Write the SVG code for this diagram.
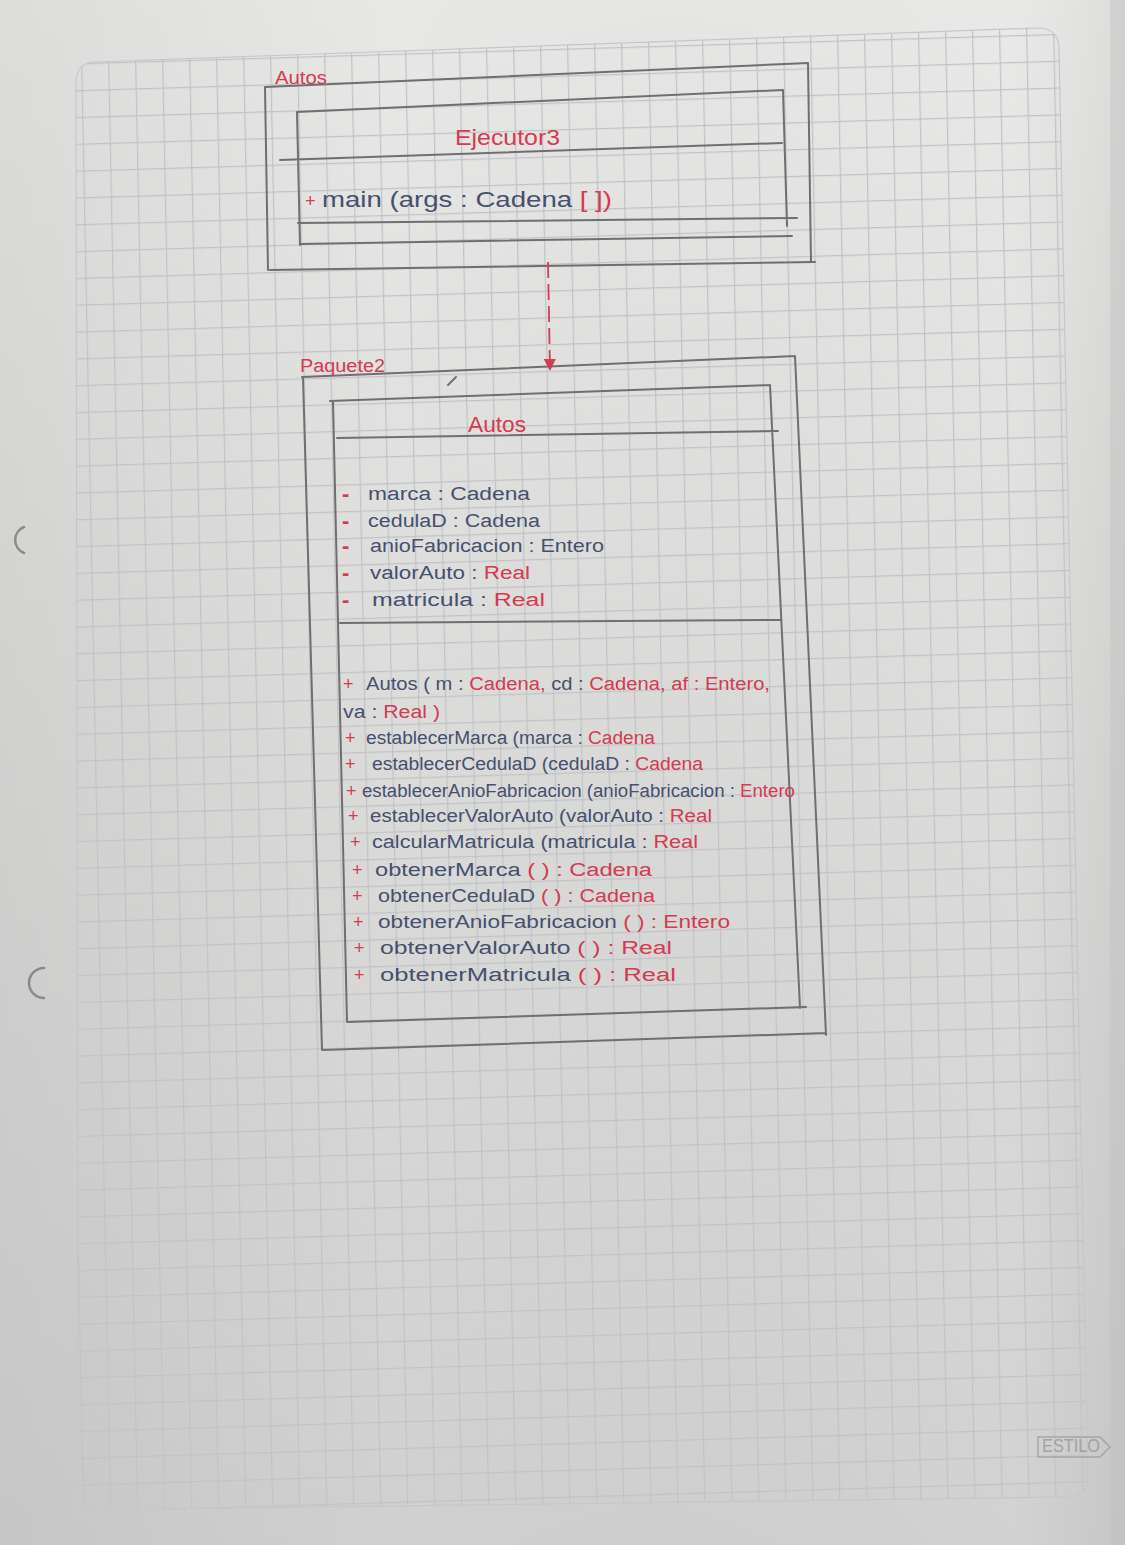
<svg xmlns="http://www.w3.org/2000/svg" width="1125" height="1545" viewBox="0 0 1125 1545">
  <defs>
    <style>
      .t { font-family: "Liberation Sans", "Open Sans", sans-serif; font-size: 18px; }
      .big { font-size: 22px; }
      .lbl { font-size: 18px; }
      .dash { font-size: 22px; font-weight: bold; }
      .r { fill: #d43a50; }
      .b { fill: #45506f; }
      .pen { fill: none; stroke: #6f6f72; stroke-width: 2; stroke-linecap: round; }
      .hole { fill: none; stroke: #8a8a8a; stroke-width: 2.5; stroke-linecap: round; }
    </style>
    <linearGradient id="paperV" x1="0" y1="0" x2="0" y2="1">
      <stop offset="0" stop-color="#e8e8e7"/>
      <stop offset="0.45" stop-color="#dcdcdb"/>
      <stop offset="1" stop-color="#d0d0d0"/>
    </linearGradient>
    <linearGradient id="paperH" x1="0" y1="0" x2="1" y2="0">
      <stop offset="0" stop-color="#000" stop-opacity="0.05"/>
      <stop offset="0.35" stop-color="#000" stop-opacity="0"/>
      <stop offset="0.9" stop-color="#fff" stop-opacity="0.04"/>
      <stop offset="1" stop-color="#000" stop-opacity="0.05"/>
    </linearGradient>
    <pattern id="grid" patternUnits="userSpaceOnUse" width="27" height="26.8"
             patternTransform="matrix(1 -0.03 0.02 1 26 11.2)">
      <path d="M0 0.6 H27 M0.6 0 V26.8" fill="none" stroke="#c2c3c7" stroke-width="1.3"/>
    </pattern>
    <marker id="arrowRed" viewBox="0 0 12 12" refX="11" refY="6" markerWidth="12" markerHeight="12" markerUnits="userSpaceOnUse" orient="auto">
      <path d="M0 0 L12 6 L0 12 Z" fill="#d43a50"/>
    </marker>
  </defs>

  <!-- sheet of squared paper -->
  <rect x="0" y="0" width="1125" height="1545" fill="url(#paperV)"/>
  <rect x="0" y="0" width="1125" height="1545" fill="url(#paperH)"/>
  <rect x="1110" y="0" width="15" height="1545" fill="#bdbdbd" opacity="0.35"/>
  <path d="M95 62 L1038 28 Q1058 28 1059 48 L1088 1478 Q1088 1496 1070 1497 L96 1510 Q78 1510 78 1492 L76 82 Q76 63 95 62 Z"
        fill="url(#grid)" stroke="#c6c7ca" stroke-width="1.2"/>

  <!-- binder holes -->
  <path class="hole" d="M24 527 A14 14 0 0 0 24 553"/>
  <path class="hole" d="M44 968 A15 15 0 0 0 44 998"/>

  <!-- printed brand mark -->
  <g id="brand">
    <path d="M1038 1437 H1100 L1110 1447 L1100 1457 H1038 Z" fill="none" stroke="#a6a6a6" stroke-width="1.5"/>
    <text x="1042" y="1452" class="t" font-size="12" fill="#a2a2a2" textLength="58" lengthAdjust="spacingAndGlyphs">ESTILO</text>
  </g>

  <!-- package "Autos" -->
  <g id="pkg-autos">
    <path class="pen" d="M265 87 L808 63 M265 87 L268 270 M808 63 L811 262 M270 270 L815 262"/>
    <text x="275" y="84" class="t lbl r" textLength="52" lengthAdjust="spacingAndGlyphs">Autos</text>
  </g>

  <!-- class Ejecutor3 -->
  <g id="class-ejecutor3">
    <path class="pen" d="M297 112 L783 90 M297 112 L300 245 M783 90 L787 226 M280 160 L782 143 M298 223 L797 218 M300 244 L792 236"/>
    <text x="455" y="145" class="t big r" textLength="105" lengthAdjust="spacingAndGlyphs">Ejecutor3</text>
    <text x="305" y="207" class="t r">+</text>
    <text x="322" y="207" class="t big" textLength="290" lengthAdjust="spacingAndGlyphs"><tspan class="b">main (args : Cadena </tspan><tspan class="r">[ ])</tspan></text>
  </g>

  <!-- package "Paquete2" -->
  <g id="pkg-paquete2">
    <path class="pen" d="M302 377 L795 356 M303 377 L322 1050 M795 356 L826 1035 M322 1050 L826 1033"/>
    <path class="pen" d="M448 385 L456 377" stroke-width="1.5"/>
    <text x="300" y="372" class="t lbl r" textLength="85" lengthAdjust="spacingAndGlyphs">Paquete2</text>
  </g>

  <!-- class Autos -->
  <g id="class-autos">
    <path class="pen" d="M330 401 L770 385 M333 401 L347 1022 M770 385 L800 1008 M337 438 L778 431 M340 623 L780 620 M347 1022 L806 1007"/>
    <text x="468" y="432" class="t big r" textLength="58" lengthAdjust="spacingAndGlyphs">Autos</text>

    <!-- attributes -->
    <text x="342" y="501" class="t dash r">-</text>
    <text x="368" y="500" class="t b" textLength="162" lengthAdjust="spacingAndGlyphs">marca : Cadena</text>
    <text x="342" y="528" class="t dash r">-</text>
    <text x="368" y="527" class="t b" textLength="172" lengthAdjust="spacingAndGlyphs">cedulaD : Cadena</text>
    <text x="342" y="553" class="t dash r">-</text>
    <text x="370" y="552" class="t b" textLength="234" lengthAdjust="spacingAndGlyphs">anioFabricacion : Entero</text>
    <text x="342" y="580" class="t dash r">-</text>
    <text x="370" y="579" class="t" textLength="160" lengthAdjust="spacingAndGlyphs"><tspan class="b">valorAuto : </tspan><tspan class="r">Real</tspan></text>
    <text x="342" y="607" class="t dash r">-</text>
    <text x="372" y="606" class="t" textLength="173" lengthAdjust="spacingAndGlyphs"><tspan class="b">matricula : </tspan><tspan class="r">Real</tspan></text>

    <!-- operations -->
    <text x="343" y="690" class="t r">+</text>
    <text x="366" y="690" class="t" textLength="404" lengthAdjust="spacingAndGlyphs"><tspan class="b">Autos ( m : </tspan><tspan class="r">Cadena, </tspan><tspan class="b">cd : </tspan><tspan class="r">Cadena, af : Entero,</tspan></text>
    <text x="343" y="718" class="t" textLength="97" lengthAdjust="spacingAndGlyphs"><tspan class="b">va : </tspan><tspan class="r">Real )</tspan></text>
    <text x="345" y="744" class="t r">+</text>
    <text x="366" y="744" class="t" textLength="289" lengthAdjust="spacingAndGlyphs"><tspan class="b">establecerMarca (marca : </tspan><tspan class="r">Cadena</tspan></text>
    <text x="345" y="770" class="t r">+</text>
    <text x="372" y="770" class="t" textLength="331" lengthAdjust="spacingAndGlyphs"><tspan class="b">establecerCedulaD (cedulaD : </tspan><tspan class="r">Cadena</tspan></text>
    <text x="346" y="797" class="t r">+</text>
    <text x="362" y="797" class="t" textLength="433" lengthAdjust="spacingAndGlyphs"><tspan class="b">establecerAnioFabricacion (anioFabricacion : </tspan><tspan class="r">Entero</tspan></text>
    <text x="348" y="822" class="t r">+</text>
    <text x="370" y="822" class="t" textLength="342" lengthAdjust="spacingAndGlyphs"><tspan class="b">establecerValorAuto (valorAuto : </tspan><tspan class="r">Real</tspan></text>
    <text x="350" y="848" class="t r">+</text>
    <text x="372" y="848" class="t" textLength="326" lengthAdjust="spacingAndGlyphs"><tspan class="b">calcularMatricula (matricula : </tspan><tspan class="r">Real</tspan></text>
    <text x="352" y="876" class="t r">+</text>
    <text x="375" y="876" class="t" textLength="277" lengthAdjust="spacingAndGlyphs"><tspan class="b">obtenerMarca </tspan><tspan class="r">( ) : Cadena</tspan></text>
    <text x="352" y="902" class="t r">+</text>
    <text x="378" y="902" class="t" textLength="277" lengthAdjust="spacingAndGlyphs"><tspan class="b">obtenerCedulaD </tspan><tspan class="r">( ) : Cadena</tspan></text>
    <text x="353" y="928" class="t r">+</text>
    <text x="378" y="928" class="t" textLength="352" lengthAdjust="spacingAndGlyphs"><tspan class="b">obtenerAnioFabricacion </tspan><tspan class="r">( ) : Entero</tspan></text>
    <text x="354" y="954" class="t r">+</text>
    <text x="380" y="954" class="t" textLength="292" lengthAdjust="spacingAndGlyphs"><tspan class="b">obtenerValorAuto </tspan><tspan class="r">( ) : Real</tspan></text>
    <text x="354" y="981" class="t r">+</text>
    <text x="380" y="981" class="t" textLength="296" lengthAdjust="spacingAndGlyphs"><tspan class="b">obtenerMatricula </tspan><tspan class="r">( ) : Real</tspan></text>
  </g>

  <!-- dependency: Ejecutor3 package uses Paquete2 -->
  <g id="connectors">
    <line x1="548" y1="262" x2="550" y2="370" stroke="#d43a50" stroke-width="1.8" stroke-dasharray="16 6" marker-end="url(#arrowRed)"/>
  </g>
</svg>
